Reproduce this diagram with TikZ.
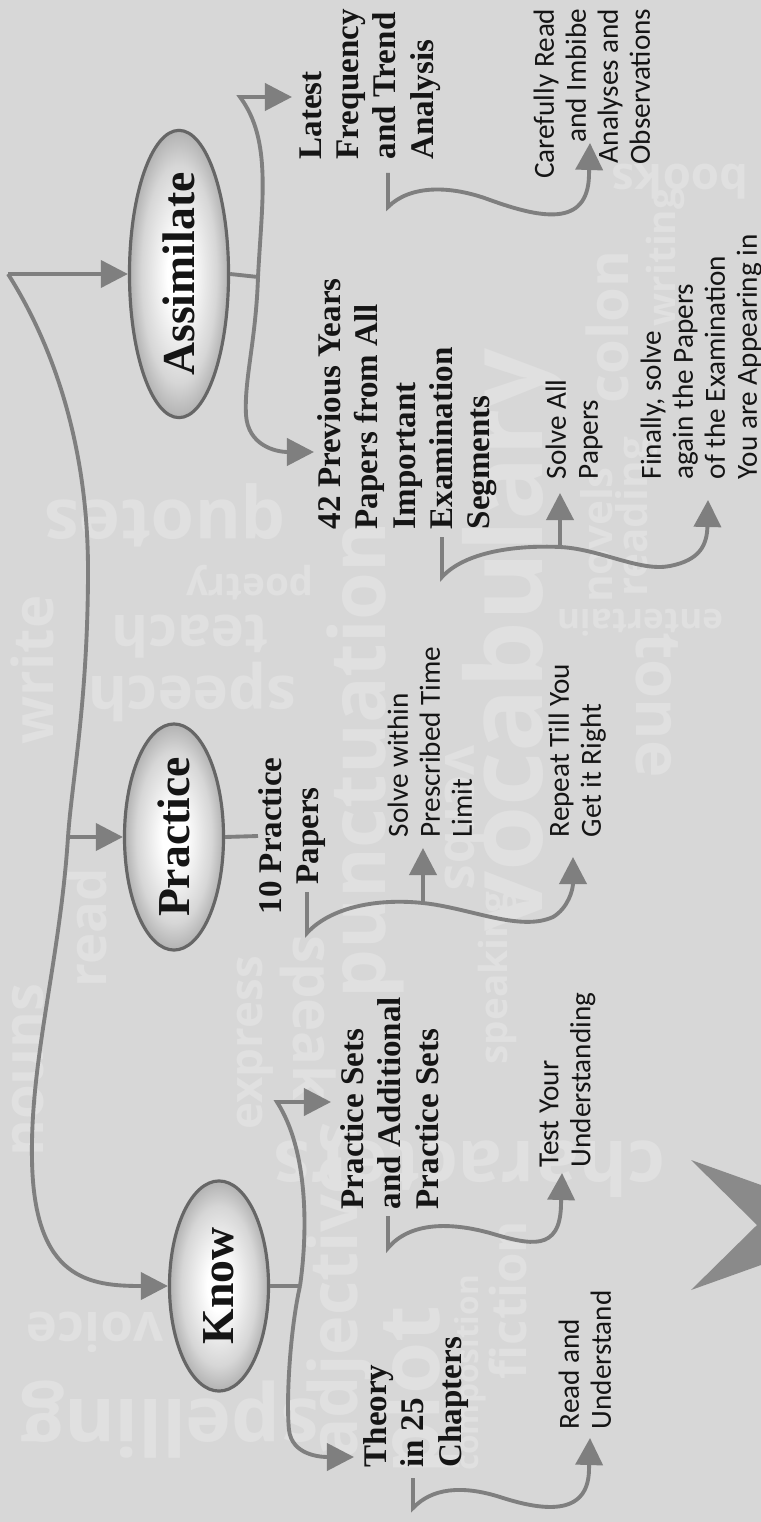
\documentclass[tikz,border=0pt]{standalone}
\usepackage{fontspec}
\setmainfont{Liberation Serif}
\newfontfamily\notefont{Carlito}
\newfontfamily\cloudfont{Open Sans}
\usetikzlibrary{arrows.meta,shapes.geometric}

\definecolor{paper}{HTML}{D7D7D7}
\definecolor{faint}{HTML}{E0E0E0}
\definecolor{wire}{HTML}{7F7F7F}
\definecolor{rim}{HTML}{666666}
\definecolor{edge}{HTML}{9A9A9A}
\definecolor{chev}{HTML}{8A8A8A}
\definecolor{ink}{HTML}{151515}

\pgfdeclareradialshading{orb}{\pgfpoint{0bp}{0bp}}{color(0bp)=(white);
  color(6bp)=(white); color(19bp)=(gray!32); color(29bp)=(edge); color(50bp)=(edge)}

\tikzset{
  stage/.style={ellipse,rotate=90,draw=rim,line width=0.9pt,shading=orb,
    minimum width=2.1cm,minimum height=0.99cm,
    inner sep=0pt,font=\fontsize{13}{15}\selectfont\bfseries,text=ink},
  head/.style={rotate=90,align=left,inner sep=0pt,
    font=\fontsize{9.4}{10.6}\selectfont\bfseries,text=ink},
  note/.style={rotate=90,align=left,inner sep=0pt,
    font=\notefont\fontsize{8.3}{9.1}\selectfont,text=ink},
  link/.style={draw=wire,line width=1.1pt},
  tip/.style={link,-{Triangle[length=0.27cm,width=0.27cm]}},
  cloud/.style={text=faint,inner sep=0pt}
}

\begin{document}
\begin{tikzpicture}[x=0.01cm,y=-0.01cm]
  \useasboundingbox (0,0) rectangle (761,1522);
  \fill[paper] (0,0) rectangle (761,1522);

  % faint word cloud behind
  \foreach \w/\x/\y/\r/\s [count=\i] in {
      quotes/165/515/180/20, teach/190/637/180/16, speech/192/692/180/17,
      poetry/250/583/180/11, write/32/670/90/16, voice/95/1332/180/15,
      spelling/170/1420/180/22, nouns/28/1070/90/16, read/87/928/90/15,
      express/255/1043/90/13, speak/308/1018/-90/16, speaking/497/978/90/11,
      verbs/465/818/-90/15, vocabulary/515/640/90/30, punctuation/365/760/90/22,
      novels/597/535/90/12, reading/637/517/90/12, entertain/640/623/180/10,
      tone/657/705/-90/18, books/680/182/180/13, writing/665/257/90/11,
      colon/607/327/90/16, characters/470/1169/180/21, plot/418/1390/90/24,
      composition/470/1373/90/9, fiction/508/1300/90/14, adjectives/340/1290/90/19}
    \node[cloud,rotate=\r,font=\cloudfont\bfseries\fontsize{\s}{\s}\selectfont]
      (cw\i) at (\x,\y) {\w};

  % chevron at the foot
  \fill[chev] (691,1160) -- (761,1185) -- (761,1265) -- (691,1290) -- (757,1225) -- cycle;

  % stages
  \node[stage] (assim) at (179,274) {Assimilate};
  \node[stage] (prac) at (174,837) {Practice};
  \node[stage] (know) at (219,1286) {Know};

  % headings
  \node[head,anchor=north west] (latest) at (299,160) {Latest\\Frequency\\and Trend\\Analysis};
  \node[head,anchor=north west] (prev) at (317,530) {42 Previous Years\\Papers from All\\Important\\Examination\\Segments};
  \node[head,align=center,anchor=north] (tenpp) at (258,836) {10 Practice\\Papers};
  \node[head,anchor=north west] (psets) at (340,1210) {Practice Sets\\and Additional\\Practice Sets};
  \node[head,anchor=north west] (theory) at (363,1468) {Theory\\in 25\\Chapters};

  % notes
  \node[note,align=right,anchor=north east] (careful) at (533,8) {Carefully Read\\and Imbibe\\Analyses and\\Observations};
  \node[note,anchor=north west] (solveall) at (545,480) {Solve All\\Papers};
  \node[note,anchor=north west] (finally) at (640,480) {Finally, solve\\again the Papers\\of the Examination\\You are Appearing in};
  \node[note,anchor=north west] (within) at (387,838) {Solve within\\Prescribed Time\\Limit};
  \node[note,anchor=north west] (repeat) at (548,838) {Repeat Till You\\Get it Right};
  \node[note,anchor=north west] (testyour) at (539,1168) {Test Your\\Understanding};
  \node[note,anchor=north west] (readund) at (558,1430) {Read and\\Understand};

  % joints and arrow ends
  \coordinate (root) at (8,274);
  \coordinate (pfork) at (68,837);
  \coordinate (afork) at (258,277);
  \coordinate (atop) at (240,97);
  \coordinate (latin) at (292,97);
  \coordinate (previn) at (314,452);
  \coordinate (lt1) at (388,173);
  \coordinate (lt2) at (388,207);
  \coordinate (carein) at (590,143);
  \coordinate (pv1) at (442,537);
  \coordinate (pv2) at (442,577);
  \coordinate (pvfork) at (560,547);
  \coordinate (solvein) at (560,493);
  \coordinate (finin) at (708,500);
  \coordinate (pp1) at (307,892);
  \coordinate (pp2) at (307,933);
  \coordinate (ppfork) at (423,903);
  \coordinate (withinin) at (423,848);
  \coordinate (repin) at (573,857);
  \coordinate (kfork) at (300,1286);
  \coordinate (kcorner) at (277,1102);
  \coordinate (psin) at (331,1102);
  \coordinate (thin) at (354,1457);
  \coordinate (th1) at (413,1478);
  \coordinate (th2) at (413,1508);
  \coordinate (readin) at (590,1438);
  \coordinate (ps1) at (388,1216);
  \coordinate (ps2) at (388,1248);
  \coordinate (testin) at (562,1173);

  % trunk
  \draw[tip] (root) -- (assim.north);
  \draw[tip] (pfork) -- (prac.north);
  \draw[tip] (root) .. controls (50,340) and (88,440) .. (88,570)
    .. controls (88,700) and (72,780) .. (pfork)
    .. controls (60,960) and (30,1060) .. (32,1160)
    .. controls (34,1280) and (90,1286) .. (know.north);

  % assimilate
  \draw[link] (assim.south) -- (afork);
  \draw[tip] (afork) .. controls (262,200) and (272,140) .. (atop) -- (latin);
  \draw[tip] (afork) .. controls (256,340) and (244,380) .. (246,415)
    .. controls (248,445) and (275,452) .. (previn);
  \draw[tip] (lt1) -- (lt2) .. controls (410,185) and (450,185) .. (490,200)
    .. controls (540,218) and (588,228) .. (589,175) -- (carein);
  \draw[tip] (pv1) -- (pv2) .. controls (465,552) and (515,545) .. (pvfork)
    .. controls (600,549) and (640,572) .. (670,566)
    .. controls (700,560) and (707,545) .. (finin);
  \draw[tip] (pvfork) -- (solvein);

  % practice
  \draw[link] (prac.south) -- (tenpp.north);
  \draw[tip] (pp1) -- (pp2) .. controls (330,908) and (375,898) .. (ppfork)
    .. controls (470,908) and (520,932) .. (553,917)
    .. controls (568,908) and (573,890) .. (repin);
  \draw[tip] (ppfork) -- (withinin);

  % know
  \draw[link] (know.south) -- (kfork);
  \draw[tip] (kfork) .. controls (308,1230) and (308,1150) .. (kcorner) -- (psin);
  \draw[tip] (kfork) .. controls (290,1330) and (286,1400) .. (289,1430)
    .. controls (292,1455) and (320,1457) .. (thin);
  \draw[tip] (th1) -- (th2) .. controls (432,1488) and (462,1485) .. (500,1497)
    .. controls (540,1510) and (588,1518) .. (589,1470) -- (readin);
  \draw[tip] (ps1) -- (ps2) .. controls (410,1222) and (450,1222) .. (490,1233)
    .. controls (530,1245) and (560,1252) .. (561,1205) -- (testin);
\end{tikzpicture}
\end{document}
